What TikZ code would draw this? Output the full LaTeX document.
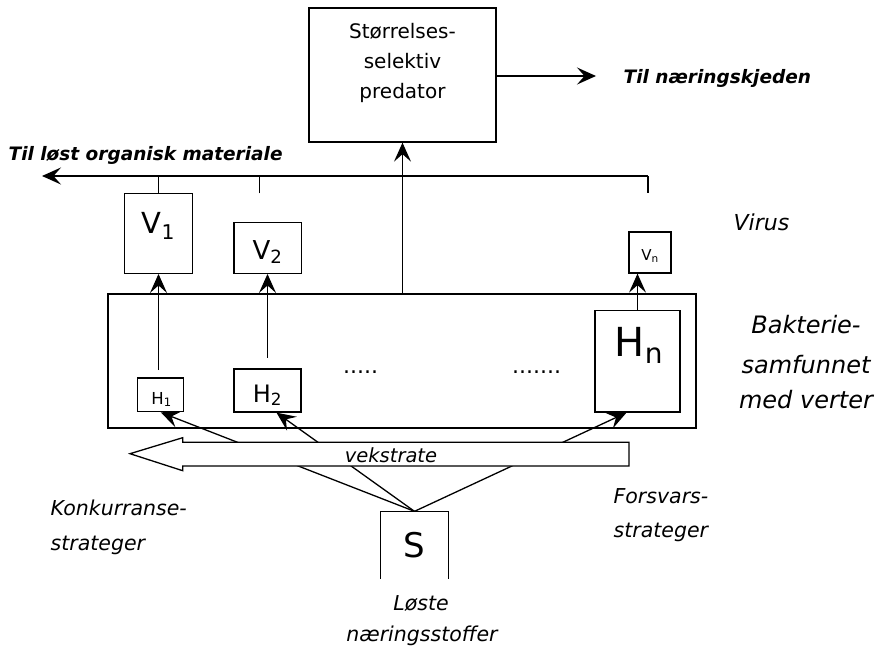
\documentclass[tikz,border=0pt]{standalone}
\usepackage{fontspec}
\setmainfont{DejaVu Sans}
\usetikzlibrary{arrows.meta,calc}
\begin{document}
\begin{tikzpicture}[x=1pt,y=-1pt,line width=1.3pt,
  arr/.style={-{Stealth[length=19pt,width=17pt,inset=7.5pt]}},
  box/.style={draw,rectangle,inner sep=0pt},
  lbl/.style={inner sep=0pt,anchor=base},
  ital/.style={inner sep=0pt,anchor=base west,font=\fontsize{20.5}{24}\selectfont\itshape},
  italc/.style={inner sep=0pt,anchor=base,font=\fontsize{20.5}{24}\selectfont\itshape},
  bakt/.style={inner sep=0pt,anchor=base,font=\fontsize{24}{28}\selectfont\itshape},
  boldit/.style={inner sep=0pt,anchor=base west,font=\fontsize{18.5}{22}\selectfont\bfseries\itshape}]
\useasboundingbox (0,0) rectangle (880,647);

% predator
\node[box,minimum width=187pt,minimum height=134pt] (pred) at (402.5,75) {};
\node[align=center,inner sep=0pt,font=\fontsize{20}{30}\selectfont] (predtxt) at (402.5,63) {Størrelses-\\selektiv\\predator};
\coordinate (tnEnd) at (596,76);
\draw[arr] (pred.east |- tnEnd) -- (tnEnd);
\node[boldit] (tn) at (623,84) {Til næringskjeden};

% bacteria box
\node[box,minimum width=588pt,minimum height=134pt] (bac) at (401.85,361) {};
\draw[arr] (pred.south |- bac.north) -- (pred.south);

% virus boxes
\node[box,minimum width=68pt,minimum height=80pt] (V1) at (158.3,233.3) {};
\node[box,minimum width=67.3pt,minimum height=51pt] (V2) at (267.65,247.8) {};
\node[box,minimum width=42pt,minimum height=41pt] (Vn) at (650,252.5) {};
\node[lbl,font=\fontsize{29}{32}\selectfont] (V1t) at (158.5,233) {V\textsubscript{1}};
\node[lbl,font=\fontsize{26}{30}\selectfont] (V2t) at (267.5,259) {V\textsubscript{2}};
\node[lbl,font=\fontsize{15}{17}\selectfont] (Vnt) at (650,260) {V\textsubscript{n}};

% top line to dissolved organic material
\coordinate (dom) at (42,176);
\coordinate (topR) at (648,176);
\coordinate (v2t) at (259.3,193.3);
\coordinate (vnt) at (648,193);
\draw[arr] (topR) -- (dom);
\draw (V1.north) -- (V1.north |- dom);
\draw (v2t) -- (v2t |- dom);
\draw (vnt) -- (topR);
\node[boldit] (tlom) at (8,161) {Til løst organisk materiale};
\node[ital,font=\fontsize{22}{26}\selectfont\itshape] (virus) at (733,230) {Virus};

% hosts
\node[box,minimum width=46pt,minimum height=33.7pt] (H1) at (160.7,394.85) {};
\node[box,minimum width=67pt,minimum height=43pt] (H2) at (267.5,390.5) {};
\node[box,minimum width=85pt,minimum height=101.3pt] (Hn) at (637.5,361.35) {};
\node[lbl,font=\fontsize{16.5}{20}\selectfont] (H1t) at (161.5,404) {H\textsubscript{1}};
\node[lbl,font=\fontsize{24}{28}\selectfont] (H2t) at (267.5,402) {H\textsubscript{2}};
\node[lbl,font=\fontsize{40}{44}\selectfont] (Hnt) at (639,356) {H\textsubscript{n}};
\node[lbl,font=\fontsize{22}{26}\selectfont] (dots1) at (360.5,373) {.....};
\node[lbl,font=\fontsize{22}{26}\selectfont] (dots2) at (536.5,373) {.......};

\coordinate (h1t) at (158.5,370);
\coordinate (h2t) at (267.5,357.7);
\draw[arr] (h1t) -- (h1t |- V1.south);
\draw[arr] (h2t) -- (h2t |- V2.south);
\draw[arr] (Hn.north) -- (Hn.north |- Vn.south);

% right labels
\node[bakt] (bak1) at (806,333) {Bakterie-};
\node[bakt] (bak2) at (806,373) {samfunnet};
\node[bakt] (bak3) at (806,408) {med verter};

% substrate
\node[inner sep=0pt,minimum width=67pt,minimum height=66pt,font=\fontsize{34}{38}\selectfont] (sbox) at (414.5,545) {S};
\draw (sbox.south west) -- (sbox.north west) -- (sbox.north east) -- (sbox.south east);
\draw[arr] (sbox.north) -- (H1.south);
\draw[arr] (sbox.north) -- ($(H2.south)+(9,0)$);
\draw[arr] (sbox.north) -- ($(Hn.south)+(-11,0)$);

% growth rate arrow
\draw[fill=white] (130,453.7) -- (182.7,437.7) -- (182.7,442.3) -- (629,442.3) -- (629,466) -- (182.7,466) -- (182.7,470.7) -- cycle;
\node[italc,font=\fontsize{19.5}{22}\selectfont\itshape] (vek) at (391,462) {vekstrate};

% strategies
\node[ital] (kon1) at (50,515) {Konkurranse-};
\node[ital] (kon2) at (50,550) {strateger};
\node[ital] (for1) at (613,503) {Forsvars-};
\node[ital] (for2) at (613,537) {strateger};
\node[italc] (los1) at (421,610) {Løste};
\node[italc] (los2) at (422,641) {næringsstoffer};
\end{tikzpicture}
\end{document}
